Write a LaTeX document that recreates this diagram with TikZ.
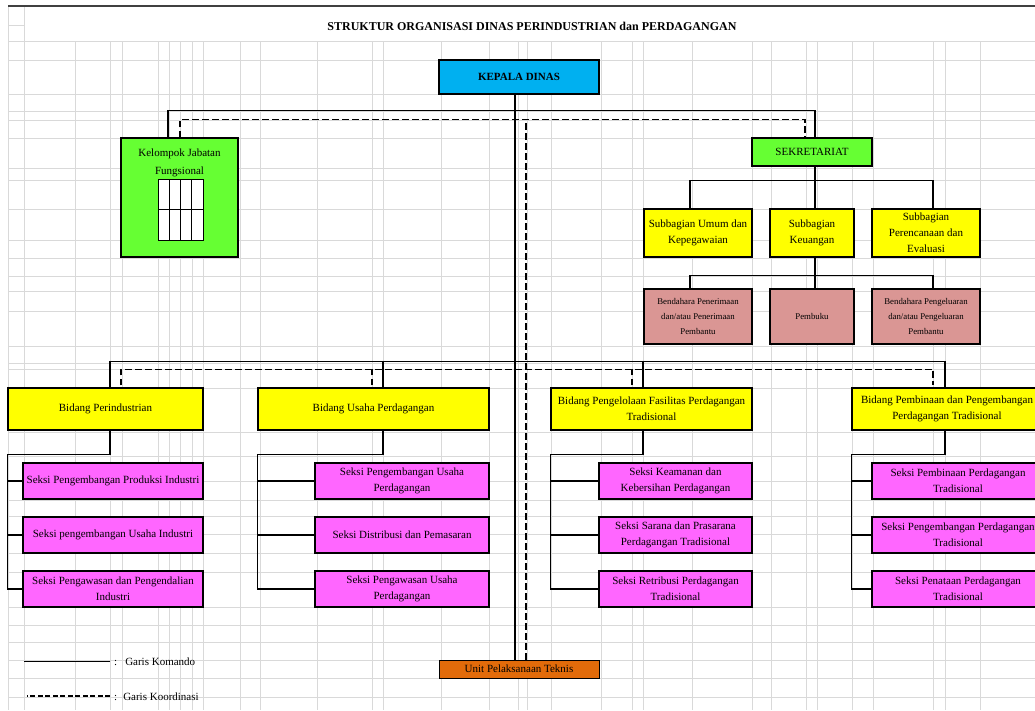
\documentclass[tikz,border=0pt]{standalone}
\usepackage{fontspec}
\setmainfont{Liberation Serif}
\definecolor{cCyan}{HTML}{00B0F0}
\definecolor{cGreen}{HTML}{66FF33}
\definecolor{cYellow}{HTML}{FFFF00}
\definecolor{cRose}{HTML}{DA9694}
\definecolor{cMag}{HTML}{FF66FF}
\definecolor{cOrange}{HTML}{E26B0A}
\definecolor{cGrid}{HTML}{D9D9D9}
\tikzset{
  box/.style={draw=black, line width=1.3pt, rectangle, inner sep=1pt, align=center,
    font=\fontsize{11}{16}\selectfont},
  small/.style={font=\fontsize{8.8}{15}\selectfont},
  cmd/.style={draw=black, line width=1.2pt},
  coord/.style={draw=black, line width=1.2pt, dash pattern=on 6.5pt off 3.5pt},
  gridline/.style={draw=cGrid, line width=1pt},
}
\begin{document}
\begin{tikzpicture}[x=1pt, y=-1pt]
\useasboundingbox (0,0) rectangle (1035,710);
\clip (0,0) rectangle (1035,710);
\fill[white] (0,0) rectangle (1035,710);
% spreadsheet grid
\foreach \gx in {75,110,122,158,169,180,192,203,240,260,317,372,383,441,489,518,527,551,601,632,643,692,752,771,806,817,852,873,933,945,980}
  \draw[gridline] (\gx,41) -- (\gx,710);
\foreach \gx in {8,24}
  \draw[gridline] (\gx,6) -- (\gx,710);
\foreach \gy in {41,60,94,111,120,138,168,180,209,240,258,276,291,311,346,363,369,388,432,456,481,500,516,534,553,572,607,625,642,660,678,697}
  \draw[gridline] (8,\gy) -- (1035,\gy);
\draw[gridline] (8,25) -- (24,25);
\draw[draw=black!75, line width=1.5pt] (8,6) -- (1035,6);

% title
\node[font=\bfseries\fontsize{12}{14}\selectfont] (title) at (532,26) {STRUKTUR ORGANISASI DINAS PERINDUSTRIAN dan PERDAGANGAN};

% top level
\node[box, fill=cCyan, minimum width=160, minimum height=34, font=\bfseries\fontsize{11}{13}\selectfont] (kd) at (519,77) {KEPALA DINAS};
\node[box, fill=cOrange, minimum width=160, minimum height=18, line width=1pt] (upt) at (519,669) {Unit Pelaksanaan Teknis};

\node[box, fill=cGreen, minimum width=117, minimum height=119] (kjf) at (179.5,197.5) {};
\node[align=center, font=\fontsize{11}{18}\selectfont, anchor=north, inner sep=0pt] (kjft) at (179.5,148.5) {Kelompok Jabatan\\Fungsional};
\begin{scope}[shift={(kjf.center)}]
  \draw[fill=white, line width=1pt] (-21.5,-18.5) rectangle (23.5,42.5);
  \draw[line width=1pt] (-21.5,11.5) -- (23.5,11.5);
  \foreach \cx in {-10.25,1,12.25} \draw[line width=1pt] (\cx,-18.5) -- (\cx,42.5);
\end{scope}

\node[box, fill=cGreen, minimum width=120, minimum height=28] (sek) at (812,152) {SEKRETARIAT};

\node[box, fill=cYellow, minimum width=108, minimum height=48] (sk1) at (698,233) {Subbagian Umum dan\\Kepegawaian};
\node[box, fill=cYellow, minimum width=84, minimum height=48] (keu) at (812,233) {Subbagian\\Keuangan};
\node[box, fill=cYellow, minimum width=108, minimum height=48] (sk3) at (926,233) {Subbagian\\Perencanaan dan\\Evaluasi};

\node[box, small, fill=cRose, minimum width=108, minimum height=55] (bp1) at (698,316.5) {Bendahara Penerimaan\\dan/atau Penerimaan\\Pembantu};
\node[box, small, fill=cRose, minimum width=84, minimum height=55] (pem) at (812,316.5) {Pembuku};
\node[box, small, fill=cRose, minimum width=108, minimum height=55] (bp3) at (926,316.5) {Bendahara Pengeluaran\\dan/atau Pengeluaran\\Pembantu};

% bidang
\node[box, fill=cYellow, minimum width=195, minimum height=42] (bid1) at (105.5,409) {Bidang Perindustrian};
\node[box, fill=cYellow, minimum width=231, minimum height=42] (bid2) at (373.5,409) {Bidang Usaha Perdagangan};
\node[box, fill=cYellow, minimum width=201, minimum height=42] (bid3) at (651.5,409) {Bidang Pengelolaan Fasilitas Perdagangan\\Tradisional};
\node[box, fill=cYellow, minimum width=190, minimum height=42] (bid4) at (947,409) {Bidang Pembinaan dan Pengembangan\\Perdagangan Tradisional};

% seksi
\node[box, fill=cMag, minimum width=180, minimum height=36] (s11) at (113,481) {Seksi Pengembangan Produksi Industri};
\node[box, fill=cMag, minimum width=180, minimum height=36] (s12) at (113,535) {Seksi pengembangan Usaha Industri};
\node[box, fill=cMag, minimum width=180, minimum height=36] (s13) at (113,589) {Seksi Pengawasan dan Pengendalian\\Industri};

\node[box, fill=cMag, minimum width=174, minimum height=36] (s21) at (402,481) {Seksi Pengembangan Usaha\\Perdagangan};
\node[box, fill=cMag, minimum width=174, minimum height=36] (s22) at (402,535) {Seksi Distribusi dan Pemasaran};
\node[box, fill=cMag, minimum width=174, minimum height=36] (s23) at (402,589) {Seksi Pengawasan Usaha\\Perdagangan};

\node[box, fill=cMag, minimum width=153, minimum height=36] (s31) at (675.5,481) {Seksi Keamanan dan\\Kebersihan Perdagangan};
\node[box, fill=cMag, minimum width=153, minimum height=36] (s32) at (675.5,535) {Seksi Sarana dan Prasarana\\Perdagangan Tradisional};
\node[box, fill=cMag, minimum width=153, minimum height=36] (s33) at (675.5,589) {Seksi Retribusi Perdagangan\\Tradisional};

\node[box, fill=cMag, minimum width=172, minimum height=36] (s41) at (958,481) {Seksi Pembinaan Perdagangan\\Tradisional};
\node[box, fill=cMag, minimum width=172, minimum height=36] (s42) at (958,535) {Seksi Pengembangan Perdagangan\\Tradisional};
\node[box, fill=cMag, minimum width=172, minimum height=36] (s43) at (958,589) {Seksi Penataan Perdagangan\\Tradisional};

% command lines (solid)
\draw[cmd] ([xshift=-4pt]kd.south) -- ([xshift=-4pt]upt.north);
\draw[cmd] ([xshift=-11.5pt]kjf.north) -- ++(0,-27) -| ([xshift=3pt]sek.north);
\draw[cmd] ([xshift=3pt]sek.south) -- ++(0,14) coordinate (sb);
\draw[cmd] ([xshift=-8pt]sk1.north) |- (sb) -| ([xshift=7pt]sk3.north);
\draw[cmd] (sb) -- ([xshift=3pt]keu.north);
\draw[cmd] ([xshift=3pt]keu.south) -- ++(0,18) coordinate (pb);
\draw[cmd] ([xshift=-8pt]bp1.north) |- (pb) -| ([xshift=7pt]bp3.north);
\draw[cmd] (pb) -- ([xshift=3pt]pem.north);

\draw[cmd] ([xshift=4.5pt]bid1.north) -- ++(0,-26) -| ([xshift=-2pt]bid4.north);
\draw[cmd] ([xshift=9.5pt]bid2.north) -- ++(0,-26);
\draw[cmd] ([xshift=-8.5pt]bid3.north) -- ++(0,-26);

\draw[cmd] ([xshift=4.5pt]bid1.south) -- ++(0,24) -| (bid1.south west |- s13.west) -- (s13.west);
\draw[cmd] (bid1.south west |- s11.west) -- (s11.west);
\draw[cmd] (bid1.south west |- s12.west) -- (s12.west);

\draw[cmd] ([xshift=9.5pt]bid2.south) -- ++(0,24) -| (bid2.south west |- s23.west) -- (s23.west);
\draw[cmd] (bid2.south west |- s21.west) -- (s21.west);
\draw[cmd] (bid2.south west |- s22.west) -- (s22.west);

\draw[cmd] ([xshift=-8.5pt]bid3.south) -- ++(0,24) -| (bid3.south west |- s33.west) -- (s33.west);
\draw[cmd] (bid3.south west |- s31.west) -- (s31.west);
\draw[cmd] (bid3.south west |- s32.west) -- (s32.west);

\draw[cmd] ([xshift=-2pt]bid4.south) -- ++(0,24) -| (bid4.south west |- s43.west) -- (s43.west);
\draw[cmd] (bid4.south west |- s41.west) -- (s41.west);
\draw[cmd] (bid4.south west |- s42.west) -- (s42.west);

% coordination lines (dashed)
\draw[coord] ([xshift=0.5pt]kjf.north) -- ++(0,-18) -| ([xshift=-7pt]sek.north);
\draw[coord] ([xshift=7pt]upt.north) -- ++(0,-540);
\draw[coord] ([xshift=15.5pt,yshift=2pt]bid1.north) -- ++(0,-16) -| ([xshift=-14pt,yshift=2pt]bid4.north);
\draw[coord] ([xshift=-1.5pt,yshift=2pt]bid2.north) -- ++(0,-16);
\draw[coord] ([xshift=-19.5pt,yshift=2pt]bid3.north) -- ++(0,-16);

% legend
\node[anchor=west, inner sep=0pt, font=\fontsize{11}{13}\selectfont] (lg1) at (114,662) {:\hspace{8pt}Garis Komando};
\node[anchor=west, inner sep=0pt, font=\fontsize{11}{13}\selectfont] (lg2) at (114,697) {:\hspace{6pt}Garis Koordinasi};
\draw[line width=1pt] ([xshift=-4pt,yshift=1pt]lg1.west) -- ++(-86,0);
\draw[line width=2pt, dash pattern=on 5pt off 2.5pt] ([xshift=-4pt,yshift=1pt]lg2.west) -- ++(-83,0);
\end{tikzpicture}
\end{document}
